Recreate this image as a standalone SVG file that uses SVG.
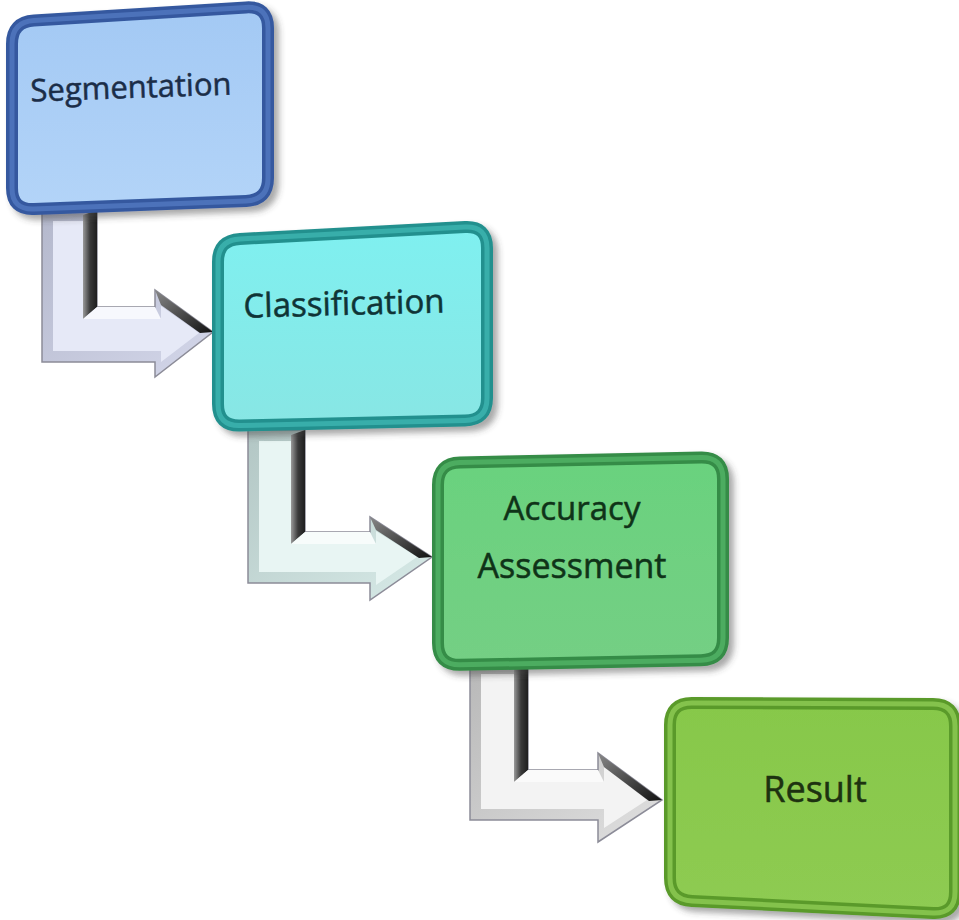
<svg xmlns="http://www.w3.org/2000/svg" width="959" height="920" viewBox="0 0 959 920">
<defs>
  <filter id="shadow" x="-10%" y="-10%" width="130%" height="130%">
    <feDropShadow dx="5" dy="5" stdDeviation="3" flood-color="#404040" flood-opacity="0.45"/>
  </filter>
  <linearGradient id="g1" x1="0" y1="0" x2="0" y2="1">
    <stop offset="0" stop-color="#a3c9f4"/><stop offset="1" stop-color="#b3d4f8"/>
  </linearGradient>
  <linearGradient id="g2" x1="0" y1="0" x2="0" y2="1">
    <stop offset="0" stop-color="#7ff0f0"/><stop offset="1" stop-color="#88e6e4"/>
  </linearGradient>
  <linearGradient id="g3" x1="0" y1="0" x2="0" y2="1">
    <stop offset="0" stop-color="#6ad27e"/><stop offset="1" stop-color="#74cf84"/>
  </linearGradient>
  <linearGradient id="g4" x1="0" y1="0" x2="0" y2="1">
    <stop offset="0" stop-color="#87c84a"/><stop offset="1" stop-color="#8ecb52"/>
  </linearGradient>
  <linearGradient id="side" x1="0" y1="0" x2="1" y2="0">
    <stop offset="0" stop-color="#9a9a9a"/><stop offset="0.5" stop-color="#3a3a3a"/><stop offset="1" stop-color="#1e1e1e"/>
  </linearGradient>
  <linearGradient id="headDark" x1="0" y1="0" x2="1" y2="1">
    <stop offset="0" stop-color="#888"/><stop offset="1" stop-color="#111"/>
  </linearGradient>
  <linearGradient id="a1" x1="0" y1="0" x2="1" y2="1">
    <stop offset="0" stop-color="#b4b8cc"/><stop offset="1" stop-color="#d4d7ea"/>
  </linearGradient>
  <linearGradient id="a2" x1="0" y1="0" x2="1" y2="1">
    <stop offset="0" stop-color="#b2c6c4"/><stop offset="1" stop-color="#d8ebe8"/>
  </linearGradient>
  <linearGradient id="a3" x1="0" y1="0" x2="1" y2="1">
    <stop offset="0" stop-color="#b8b8b8"/><stop offset="1" stop-color="#e0e0e0"/>
  </linearGradient>
</defs>
<style>
  .lbl { font-family: "Open Sans", "Liberation Sans", sans-serif; text-anchor: middle; stroke-width: 0.5; }
  .arrowOuter { stroke: #8c8c98; stroke-width: 1.5; stroke-linejoin: miter; }
  .b1o { fill: url(#g1); stroke: #34599f; stroke-width: 12; }
  .b1i { fill: none; stroke: #5279c0; stroke-width: 5; stroke-opacity: 0.8; }
  .b2o { fill: url(#g2); stroke: #23908e; stroke-width: 12; }
  .b2i { fill: none; stroke: #3fb5b2; stroke-width: 5; stroke-opacity: 0.8; }
  .b3o { fill: url(#g3); stroke: #348c47; stroke-width: 12; }
  .b3i { fill: none; stroke: #52b466; stroke-width: 5; stroke-opacity: 0.8; }
  .b4o { fill: url(#g4); stroke: #5a9a2a; stroke-width: 12; }
  .b4i { fill: none; stroke: #8fcc55; stroke-width: 5; stroke-opacity: 0.8; }
</style>
<rect width="959" height="920" fill="#ffffff"/>

<g id="connectors">
  <g id="arrow1">
    <path class="arrowOuter" fill="url(#a1)" d="M42,210 L97,210 L97,307 L155,307 L155,290 L213,332 L155,377 L155,362 L42,362 Z"/>
    <path fill="#e6e9f7" d="M53,221 L83,221 L83,319 L161,319 L161,306 L199,333 L161,362 L161,351 L53,351 Z"/>
    <path fill="url(#side)" d="M83,215 L97,210 L97,307 L83,319 Z"/>
    <path fill="url(#headDark)" d="M155,290 L213,332 L200,333 L161,305 Z"/>
    <path fill="#f7f8fd" d="M83,319 L97,307 L155,307 L161,319 Z"/>
  </g>
  <g id="arrow2">
    <path class="arrowOuter" fill="url(#a2)" d="M248,430 L305,430 L305,532 L370,532 L370,517 L432,557 L370,600 L370,583 L248,583 Z"/>
    <path fill="#e8f5f3" d="M259,441 L291,441 L291,544 L376,544 L376,531 L417,557 L376,585 L376,572 L259,572 Z"/>
    <path fill="url(#side)" d="M291,435 L305,430 L305,532 L291,544 Z"/>
    <path fill="url(#headDark)" d="M370,517 L432,557 L419,558 L376,530 Z"/>
    <path fill="#f7fcfb" d="M291,544 L305,532 L370,532 L376,544 Z"/>
  </g>
  <g id="arrow3">
    <path class="arrowOuter" fill="url(#a3)" d="M470,663 L528,663 L528,770 L598,770 L598,753 L662,800 L598,842 L598,820 L470,820 Z"/>
    <path fill="#f3f3f3" d="M481,674 L514,674 L514,782 L604,782 L604,767 L647,800 L604,828 L604,809 L481,809 Z"/>
    <path fill="url(#side)" d="M514,668 L528,663 L528,770 L514,782 Z"/>
    <path fill="url(#headDark)" d="M598,753 L662,800 L649,801 L604,767 Z"/>
    <path fill="#fafafa" d="M514,782 L528,770 L598,770 L604,782 Z"/>
  </g>
</g>

<g id="node-segmentation">
  <g filter="url(#shadow)">
    <path class="b1o" d="M34,20.6 L246,7.4 Q268,6 268,28 L268,178 Q268,200 246,201 L34,209 Q12,210 12,188 L12,44 Q12,22 34,20.6 Z"/>
  </g>
  <path class="b1i" d="M34,20.6 L246,7.4 Q268,6 268,28 L268,178 Q268,200 246,201 L34,209 Q12,210 12,188 L12,44 Q12,22 34,20.6 Z"/>
  <text class="lbl" x="131" y="98" font-size="31" fill="#1b2d48" stroke="#1b2d48" transform="rotate(-2 131 90)">Segmentation</text>
</g>

<g id="node-classification">
  <g filter="url(#shadow)">
    <path class="b2o" d="M240,238.9 L465,227.1 Q487,226 487,248 L487,398 Q487,420 465,420.5 L240,425.5 Q218,426 218,404 L218,262 Q218,240 240,238.9 Z"/>
  </g>
  <path class="b2i" d="M240,238.9 L465,227.1 Q487,226 487,248 L487,398 Q487,420 465,420.5 L240,425.5 Q218,426 218,404 L218,262 Q218,240 240,238.9 Z"/>
  <text class="lbl" x="344" y="315" font-size="33" fill="#0f3436" stroke="#0f3436" transform="rotate(-1.5 344 305)">Classification</text>
</g>

<g id="node-accuracy">
  <g filter="url(#shadow)">
    <path class="b3o" d="M460,462.5 L701,457.5 Q723,457 723,479 L723,638 Q723,660 701,660.2 L460,664.8 Q438,665 438,643 L438,485 Q438,463 460,462.5 Z"/>
  </g>
  <path class="b3i" d="M460,462.5 L701,457.5 Q723,457 723,479 L723,638 Q723,660 701,660.2 L460,664.8 Q438,665 438,643 L438,485 Q438,463 460,462.5 Z"/>
  <text class="lbl" x="572" y="520" font-size="33" fill="#0f3318" stroke="#0f3318">Accuracy</text>
  <text class="lbl" x="572" y="578" font-size="34" fill="#0f3318" stroke="#0f3318">Assessment</text>
</g>

<g id="node-result">
  <g filter="url(#shadow)">
    <path class="b4o" d="M692,703.1 L933,703.9 Q955,704 955,726 L955,892 Q955,914 933,913 L692,901 Q670,900 670,878 L670,725 Q670,703 692,703.1 Z"/>
  </g>
  <path class="b4i" d="M692,703.1 L933,703.9 Q955,704 955,726 L955,892 Q955,914 933,913 L692,901 Q670,900 670,878 L670,725 Q670,703 692,703.1 Z"/>
  <text class="lbl" x="815" y="802" font-size="36" fill="#1d3210" stroke="#1d3210">Result</text>
</g>
</svg>
